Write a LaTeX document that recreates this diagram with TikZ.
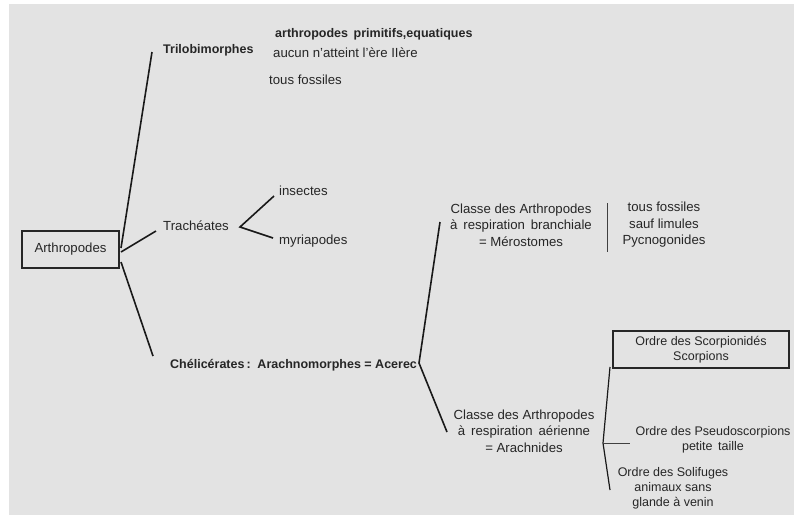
\documentclass[tikz,border=0pt]{standalone}
\usepackage{fontspec}
\setmainfont{Liberation Sans}
\definecolor{paper}{HTML}{E3E3E3}
\definecolor{ink}{HTML}{262626}
\begin{document}
\begin{tikzpicture}[x=1pt,y=-1pt,
  txt/.style={inner sep=0pt,text=ink,font=\fontsize{13.2}{16.5}\selectfont,align=center},
  stxt/.style={txt,font=\fontsize{12.5}{15}\selectfont},
  btxt/.style={txt,font=\fontsize{12.5}{15.5}\selectfont\bfseries},
  frame/.style={draw=ink,line width=2pt,inner sep=0pt},
  branch/.style={draw=black!90,line width=1.6pt},
  thin/.style={draw=black!75,line width=1pt}]
% sheet
\fill[white] (0,0) rectangle (794,515);
\fill[paper] (9,4) rectangle (794,515);
\useasboundingbox (0,0) rectangle (794,515);

% root
\node[frame,minimum width=97pt,minimum height=37pt,txt] (arth) at (70.5,249.5) {Arthropodes};

% first level
\node[btxt,anchor=west] (trilo) at (163,50) {Trilobimorphes};
\node[btxt,anchor=west] (tr1) at (275,34) {arthropodes\, primitifs,equatiques};
\node[txt,anchor=west] (tr2) at (273,53) {aucun n'atteint l'ère IIère};
\node[txt,anchor=west] (tr3) at (269,80) {tous fossiles};

\node[txt,anchor=west] (trach) at (163,226) {Trachéates};
\node[txt,anchor=west] (ins) at (279,191) {insectes};
\node[txt,anchor=west] (myr) at (279,241) {myriapodes};

\node[btxt,anchor=west] (chel) at (170,365) {Chélicérates\,:\, Arachnomorphes = Acerec};

% second level
\node[txt] (mero) at (521,225) {Classe des Arthropodes\\à\, respiration\, branchiale\\= Mérostomes};
\node[txt] (merof) at (664,225) {tous fossiles\\sauf limules\\Pycnogonides};
\node[txt] (arach) at (524,431) {Classe des Arthropodes\\à\, respiration\, aérienne\\= Arachnides};

% orders
\node[frame,minimum width=176pt,minimum height=37pt,stxt] (scorp) at (701,349.5) {Ordre des Scorpionidés\\Scorpions};
\node[stxt] (pseudo) at (713,440) {Ordre des Pseudoscorpions\\petite\, taille};
\node[stxt] (solif) at (673,488) {Ordre des Solifuges\\animaux sans\\glande à venin};

% branch points and free ends
\coordinate (aUp) at (121,248);
\coordinate (aMid) at (121,252);
\coordinate (aLow) at (121,262);
\coordinate (triloEnd) at (152,52);
\coordinate (trachEnd) at (156,231);
\coordinate (chelEnd) at (153,356);
\coordinate (trV) at (240,227);
\coordinate (insEnd) at (274,196);
\coordinate (myrEnd) at (273,238);
\coordinate (chV) at (419,363);
\coordinate (meroEnd) at (440,222);
\coordinate (arachEnd) at (447,432);
\coordinate (sepTop) at (607,203);
\coordinate (sepBot) at (607,252);
\coordinate (orTop) at (610,367);
\coordinate (orV) at (603,443);
\coordinate (orBot) at (610,490);
\coordinate (pseudoEnd) at (630,443);

% connectors
\draw[branch] (aUp) -- (triloEnd);
\draw[branch] (aMid) -- (trachEnd);
\draw[branch] (aLow) -- (chelEnd);
\draw[branch] (insEnd) -- (trV) -- (myrEnd);
\draw[branch] (meroEnd) -- (chV) -- (arachEnd);
\draw[thin] (sepTop) -- (sepBot);
\draw[branch,line width=1.2pt] (orTop) -- (orV) -- (orBot);
\draw[thin] (orV) -- (pseudoEnd);
\end{tikzpicture}
\end{document}
